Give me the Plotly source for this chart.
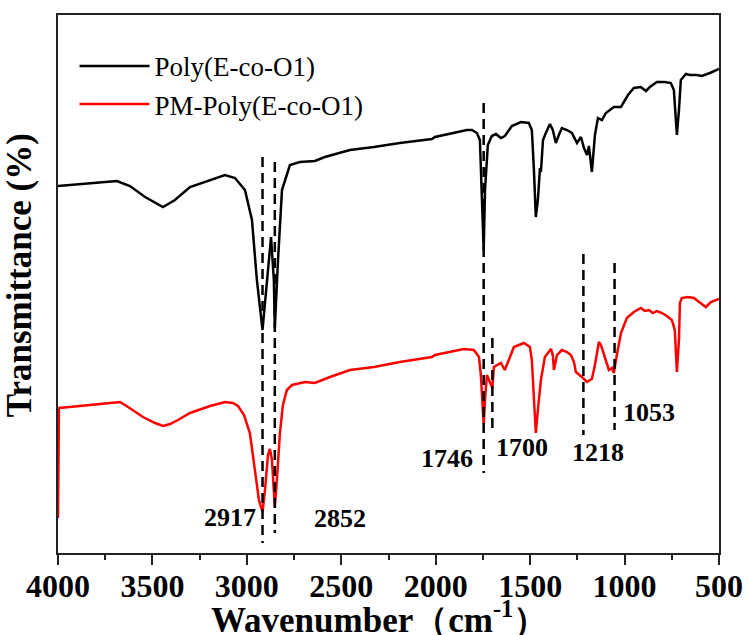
import plotly.graph_objects as go

# Poly(E-co-O1) spectrum (wavenumber, transmittance in arbitrary units)
black_wn = [4000, 3884, 3778, 3688, 3619, 3539, 3444, 3381, 3301, 3195, 3116, 3063, 3010, 2973, 2947,
            2917, 2899, 2872, 2857, 2852, 2835, 2814, 2772, 2719, 2640, 2587, 2454, 2327, 2190, 2020,
            2004, 1835, 1808, 1782, 1766, 1746, 1739, 1724, 1703, 1681, 1655, 1634, 1597, 1549, 1507,
            1491, 1480, 1470, 1459, 1448, 1443, 1432, 1417, 1395, 1380, 1364, 1348, 1332, 1305, 1279,
            1252, 1231, 1215, 1199, 1189, 1173, 1157, 1141, 1120, 1099, 1057, 1019, 982, 951, 914,
            887, 866, 829, 787, 755, 739, 728, 723, 712, 702, 675, 654, 617, 591, 548, 500]
black_t = [367, 369, 371, 372, 367, 356, 346, 353, 366, 373, 378, 375, 363, 333, 273,
           223, 263, 316, 273, 225, 293, 363, 388, 391, 392, 396, 403, 406, 410, 414,
           416, 423, 423, 420, 413, 303, 363, 408, 417, 419, 415, 417, 427, 431, 430,
           423, 383, 336, 353, 385, 381, 413, 420, 429, 423, 410, 418, 425, 423, 420,
           410, 416, 405, 398, 407, 381, 418, 435, 433, 440, 446, 446, 458, 465, 466,
           462, 466, 471, 471, 470, 463, 433, 418, 443, 473, 479, 478, 478, 477, 480, 484]

# PM-Poly(E-co-O1) spectrum
red_wn = [4000, 3995, 3884, 3735, 3672, 3629, 3550, 3486, 3444, 3407, 3365, 3301, 3195, 3116, 3074,
          3047, 3015, 2984, 2957, 2936, 2917, 2904, 2888, 2878, 2867, 2857, 2852, 2841, 2825, 2809,
          2788, 2761, 2692, 2640, 2602, 2560, 2454, 2327, 2190, 2020, 2004, 1851, 1798, 1771, 1761,
          1746, 1739, 1729, 1718, 1700, 1692, 1655, 1634, 1607, 1586, 1533, 1501, 1491, 1480, 1470,
          1459, 1443, 1422, 1390, 1380, 1374, 1358, 1332, 1305, 1284, 1268, 1258, 1226, 1199, 1183,
          1173, 1157, 1136, 1125, 1109, 1083, 1067, 1057, 1041, 1019, 988, 951, 914, 893, 871,
          850, 829, 802, 776, 750, 734, 723, 712, 707, 697, 665, 633, 601, 570, 543, 511, 500]
red_t = [35, 145, 147, 150, 151, 146, 136, 130, 127, 129, 133, 140, 147, 151, 150,
         147, 138, 120, 83, 53, 41, 63, 98, 104, 93, 58, 46, 73, 120, 148,
         163, 168, 171, 170, 173, 176, 183, 186, 191, 196, 198, 204, 203, 196, 178,
         129, 153, 178, 173, 165, 186, 190, 183, 195, 206, 210, 206, 193, 153, 120,
         143, 173, 196, 204, 198, 183, 198, 203, 201, 198, 191, 181, 176, 171, 173,
         174, 188, 211, 208, 198, 183, 185, 180, 198, 220, 235, 241, 245, 242, 243,
         240, 242, 240, 237, 233, 223, 181, 213, 250, 255, 256, 255, 250, 246, 251, 253, 254]

# Marked bands: position, dashed-line top/bottom, label position
band_wn = [2917, 2852, 1746, 1700, 1218, 1053]
band_top = [396, 391, 450, 215, 299, 290]
band_bottom = [10, 20, 80, 125, 118, 123]
label_text = ["2917", "2852", "1746", "1700", "1218", "1053"]
label_wn = [3089, 2507, 1941, 1544, 1141, 871]
label_t = [36, 35, 95, 106, 101, 141]

x_ticks = [4000, 3500, 3000, 2500, 2000, 1500, 1000, 500]
x_title = "Wavenumber（cm<sup>-1</sup>）"
y_title = "&nbsp;&nbsp;Transmittance (%)"

serif = "Liberation Serif"

fig = go.Figure()
fig.add_trace(go.Scatter(x=black_wn, y=black_t, mode="lines", name="Poly(E-co-O1)",
                         line=dict(color="black", width=2.5)))
fig.add_trace(go.Scatter(x=red_wn, y=red_t, mode="lines", name="PM-Poly(E-co-O1)",
                         line=dict(color="#ff0000", width=2.5)))

for wn, top, bot in zip(band_wn, band_top, band_bottom):
    fig.add_trace(go.Scatter(x=[wn, wn], y=[top, bot], mode="lines", showlegend=False,
                             hoverinfo="skip",
                             line=dict(color="black", width=2.5, dash="10px,6px")))

for txt, wn, t in zip(label_text, label_wn, label_t):
    fig.add_annotation(x=wn, y=t, xref="x", yref="y", text=txt, showarrow=False,
                       font=dict(family=serif, size=26, color="black", weight="bold"),
                       xanchor="center", yanchor="middle")

# x-axis title (placed below the tick labels)
fig.add_annotation(x=0.487, y=-0.1196, xref="paper", yref="paper", text=x_title,
                   showarrow=False, xanchor="center", yanchor="middle",
                   font=dict(family=serif, size=35, color="black", weight="bold"))

fig.update_layout(
    width=748, height=635,
    margin=dict(l=58, r=29, t=15, b=82),
    paper_bgcolor="white", plot_bgcolor="white",
    font=dict(family=serif, color="black"),
    legend=dict(x=0.025, y=0.95, xanchor="left", yanchor="top",
                font=dict(family=serif, size=27, color="black"),
                bgcolor="rgba(0,0,0,0)", itemwidth=70),
    xaxis=dict(range=[4000, 500], tickvals=x_ticks, ticktext=[str(v) for v in x_ticks],
               ticks="outside", ticklen=10, tickwidth=2, tickcolor="#222",
               minor=dict(ticks="outside", ticklen=5, tickwidth=2, tickcolor="#222", dtick=250),
               showline=True, linewidth=2, linecolor="#222", mirror=True,
               showgrid=False, zeroline=False, automargin=False, ticklabelstandoff=-6,
               tickfont=dict(family=serif, size=32, color="black", weight="bold")),
    yaxis=dict(range=[0, 538], showticklabels=False, ticks="",
               showline=True, linewidth=2, linecolor="#222", mirror=True,
               showgrid=False, zeroline=False, automargin=False,
               title=dict(text=y_title,
                          font=dict(family=serif, size=35, color="black", weight="bold"))),
)

fig.write_html("out.html")
